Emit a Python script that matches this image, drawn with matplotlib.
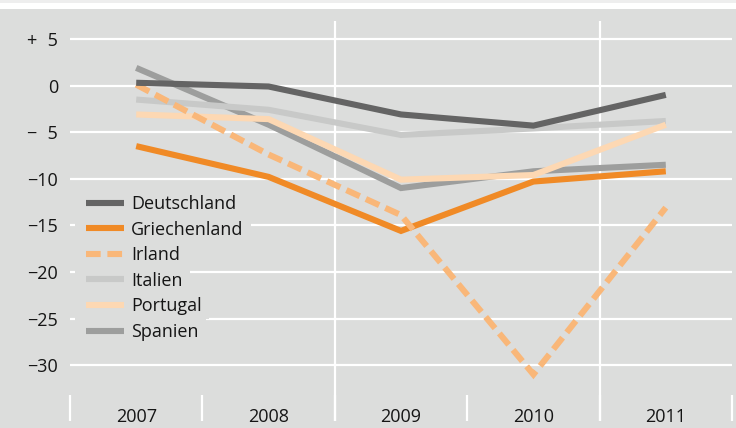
import matplotlib
matplotlib.use('Agg')
import matplotlib.pyplot as plt
import matplotlib.transforms as mtransforms
from matplotlib.patches import Rectangle

# ---- data ----
years = ['2007', '2008', '2009', '2010', '2011']
deutschland = [0.3, -0.1, -3.1, -4.3, -1.0]
griechenland = [-6.5, -9.8, -15.6, -10.3, -9.2]
irland = [0.1, -7.4, -13.9, -31.0, -13.1]
italien = [-1.5, -2.6, -5.3, -4.6, -3.8]
portugal = [-3.1, -3.6, -10.1, -9.6, -4.2]
spanien = [1.9, -4.2, -11.0, -9.2, -8.5]

series_names = ['Deutschland', 'Griechenland', 'Irland', 'Italien', 'Portugal', 'Spanien']
ytick_values = [5, 0, -5, -10, -15, -20, -25, -30]
ytick_labels = ['+\u20075', '0', '\u2212\u20075', '\u221210', '\u221215',
                '\u221220', '\u221225', '\u221230']

# ---- styles ----
BG = '#dcdddc'
TXT = '#151515'
colors = {'Deutschland': '#646464', 'Griechenland': '#f08a26', 'Irland': '#f9b779',
          'Italien': '#c8c9c8', 'Portugal': '#fdd8b3', 'Spanien': '#9d9e9d'}
zorders = {'Deutschland': 2.6, 'Griechenland': 2.0, 'Irland': 2.5,
           'Italien': 2.2, 'Portugal': 2.3, 'Spanien': 2.1}
values = {'Deutschland': deutschland, 'Griechenland': griechenland, 'Irland': irland,
          'Italien': italien, 'Portugal': portugal, 'Spanien': spanien}

plt.rcParams['font.family'] = ['Open Sans', 'DejaVu Sans']
FS = 13

W, H = 736, 428
fig = plt.figure(figsize=(W / 100, H / 100), dpi=100)
fig.patch.set_facecolor(BG)
fig.patches.append(Rectangle((0, (H - 9) / H), 1, 9 / H, transform=fig.transFigure,
                             facecolor='white', edgecolor='none', zorder=-1))
fig.patches.append(Rectangle((0, (H - 3) / H), 1, 3 / H, transform=fig.transFigure,
                             facecolor='#eeeeee', edgecolor='none', zorder=-1))

ax = fig.add_axes([70 / W, 7 / H, 662 / W, 400 / H])
ax.set_facecolor(BG)
for s in ax.spines.values():
    s.set_visible(False)

x = list(range(len(years)))
ax.set_xlim(-0.5, len(years) - 0.5)
ax.set_ylim(-36.0, 6.93)

ax.set_yticks(ytick_values, ytick_labels)
ax.tick_params(axis='y', length=0, pad=8.6, labelsize=FS, labelcolor=TXT)
ax.yaxis.grid(True, color='white', lw=1.6)
ax.set_axisbelow(True)

ax.set_xticks(x)
ax.tick_params(axis='x', which='major', length=0, labelbottom=False)
ax.set_xticks([i - 0.5 for i in range(len(years) + 1)], minor=True)
ax.tick_params(axis='x', which='minor', direction='in', length=18.7, width=1.6, color='white')
for xv in (1.5, 3.5):
    ax.axvline(xv, color='white', lw=1.6, zorder=0.6)

trans = mtransforms.blended_transform_factory(ax.transData, ax.transAxes)
for i, yr in enumerate(years):
    ax.text(i, -0.003, yr, transform=trans, ha='center', va='baseline',
            fontsize=FS, color=TXT)

lines = []
for name in series_names:
    kw = dict(color=colors[name], lw=4.4, zorder=zorders[name],
              solid_capstyle='butt', solid_joinstyle='miter', label=name)
    if name == 'Irland':
        kw.update(linestyle=(0, (2.4, 1.1)), dash_capstyle='butt', dash_joinstyle='miter')
    ln, = ax.plot(x, values[name], **kw)
    lines.append(ln)

leg = ax.legend(handles=lines, loc='upper left', bbox_to_anchor=(86 / W, 1 - 195 / H),
                bbox_transform=fig.transFigure, frameon=False, borderpad=0,
                borderaxespad=0, handlelength=2.1, handletextpad=0.38,
                labelspacing=0.42, fontsize=FS)
leg.set_zorder(5)
for t in leg.get_texts():
    t.set_color(TXT)

# background boxes behind legend rows (cover gridlines)
fig.canvas.draw()
renderer = fig.canvas.get_renderer()
for t in leg.get_texts():
    bb = t.get_window_extent(renderer)
    cy = (bb.y0 + bb.y1) / 2
    x0 = 75
    x1 = bb.x1 + 8
    ax.add_patch(Rectangle((x0, cy - 12.6), x1 - x0, 25.2,
                           transform=mtransforms.IdentityTransform(),
                           facecolor=BG, edgecolor='none', zorder=0.7))

fig.savefig('out.png', dpi=100, facecolor=BG)
